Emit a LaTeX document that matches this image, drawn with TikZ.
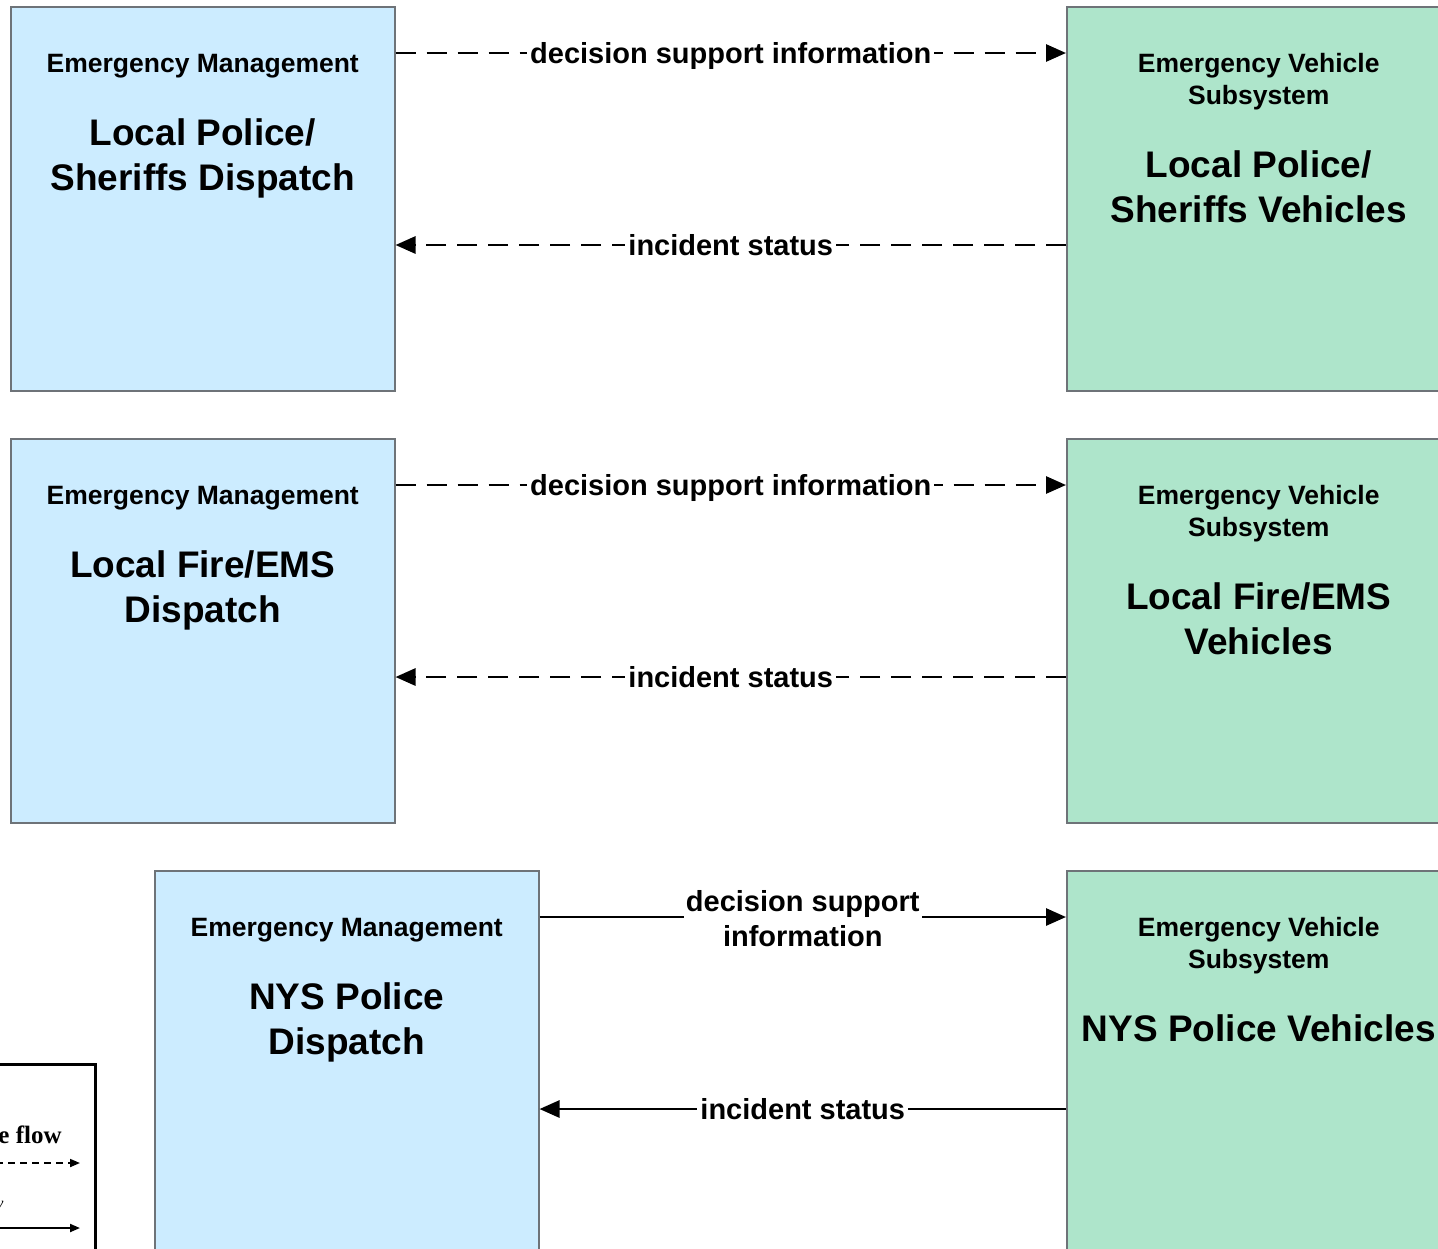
\documentclass[tikz,border=0pt]{standalone}
\usepackage{fontspec}
\setmainfont{Liberation Sans}
\newfontfamily\legserif{Liberation Serif}
\usetikzlibrary{arrows.meta,calc}
\definecolor{emblue}{HTML}{CCECFF}
\definecolor{evgreen}{HTML}{AEE5CB}
\definecolor{boxgray}{HTML}{6E7378}
\tikzset{
  box/.style={draw=boxgray, line width=0.75pt, minimum width=192pt, minimum height=192pt, anchor=north west, inner sep=0pt},
  bluebox/.style={box, fill=emblue},
  greenbox/.style={box, fill=evgreen},
  smalltxt/.style={anchor=base, inner sep=0pt, font=\fontsize{13.25pt}{16pt}\selectfont\bfseries},
  bigtxt/.style={anchor=base, inner sep=0pt, font=\fontsize{18.5pt}{22.5pt}\selectfont\bfseries},
  lbl/.style={fill=white, inner sep=1.5pt, font=\fontsize{14.5pt}{17.5pt}\selectfont\bfseries, text height=10.5pt, text depth=0pt},
  lbltwo/.style={fill=white, inner sep=1pt, align=center, font=\fontsize{14.5pt}{17.5pt}\selectfont\bfseries},
  flow/.style={line width=1.4pt, -{Triangle[length=10pt,width=8.5pt]}},
  dflow/.style={flow, dash pattern=on 10pt off 5.5pt},
  legflow/.style={line width=1pt, -{Triangle[length=5pt,width=4pt]}},
  legdflow/.style={legflow, line width=0.9pt, dash pattern=on 3.5pt off 2.5pt},
}
\begin{document}
\begin{tikzpicture}[x=0.5pt, y=-0.5pt]
\useasboundingbox (0,0) rectangle (1438,1248);
\clip (0,0) rectangle (1438,1248);
\fill[white] (0,0) rectangle (1438,1248);

% ---------- Row 1 ----------
\node[bluebox] (b1) at (10,6) {};
\node[greenbox] (g1) at (1066,6) {};
\node[smalltxt] (b1a) at ($(b1.north)+(0,66.5)$) {Emergency Management};
\node[bigtxt] (b1b) at ($(b1.north)+(0,139)$) {Local Police/};
\node[bigtxt] (b1c) at ($(b1.north)+(0,184)$) {Sheriffs Dispatch};
\node[smalltxt] (g1a) at ($(g1.north)+(0,66.5)$) {Emergency Vehicle};
\node[smalltxt] (g1b) at ($(g1.north)+(0,98.5)$) {Subsystem};
\node[bigtxt] (g1c) at ($(g1.north)+(0,171)$) {Local Police/};
\node[bigtxt] (g1d) at ($(g1.north)+(0,216)$) {Sheriffs Vehicles};
\draw[dflow] ($(b1.north east)+(0,47)$) -- node[lbl] (l1a) {decision support information} ($(g1.north west)+(0,47)$);
\draw[dflow] ($(g1.north west)+(0,239)$) -- node[lbl] (l1b) {incident status} ($(b1.north east)+(0,239)$);

% ---------- Row 2 ----------
\node[bluebox] (b2) at (10,438) {};
\node[greenbox] (g2) at (1066,438) {};
\node[smalltxt] (b2a) at ($(b2.north)+(0,66.5)$) {Emergency Management};
\node[bigtxt] (b2b) at ($(b2.north)+(0,139)$) {Local Fire/EMS};
\node[bigtxt] (b2c) at ($(b2.north)+(0,184)$) {Dispatch};
\node[smalltxt] (g2a) at ($(g2.north)+(0,66.5)$) {Emergency Vehicle};
\node[smalltxt] (g2b) at ($(g2.north)+(0,98.5)$) {Subsystem};
\node[bigtxt] (g2c) at ($(g2.north)+(0,171)$) {Local Fire/EMS};
\node[bigtxt] (g2d) at ($(g2.north)+(0,216)$) {Vehicles};
\draw[dflow] ($(b2.north east)+(0,47)$) -- node[lbl] (l2a) {decision support information} ($(g2.north west)+(0,47)$);
\draw[dflow] ($(g2.north west)+(0,239)$) -- node[lbl] (l2b) {incident status} ($(b2.north east)+(0,239)$);

% ---------- Row 3 ----------
\node[bluebox] (b3) at (154,870) {};
\node[greenbox] (g3) at (1066,870) {};
\node[smalltxt] (b3a) at ($(b3.north)+(0,66.5)$) {Emergency Management};
\node[bigtxt] (b3b) at ($(b3.north)+(0,139)$) {NYS Police};
\node[bigtxt] (b3c) at ($(b3.north)+(0,184)$) {Dispatch};
\node[smalltxt] (g3a) at ($(g3.north)+(0,66.5)$) {Emergency Vehicle};
\node[smalltxt] (g3b) at ($(g3.north)+(0,98.5)$) {Subsystem};
\node[bigtxt] (g3c) at ($(g3.north)+(0,171)$) {NYS Police Vehicles};
\draw[flow] ($(b3.north east)+(0,47)$) -- node[lbltwo, yshift=-1pt] (l3a) {decision support\\information} ($(g3.north west)+(0,47)$);
\draw[flow] ($(g3.north west)+(0,239)$) -- node[lbl] (l3b) {incident status} ($(b3.north east)+(0,239)$);

% ---------- Legend (partly outside) ----------
\node[draw=black, line width=1.5pt, fill=white, minimum width=300pt, minimum height=200pt, anchor=north east, inner sep=0pt] (leg) at (97,1063) {};
\node[anchor=base east, inner sep=0pt, font=\legserif\bfseries\fontsize{12.5pt}{15pt}\selectfont] (legt1) at (62,1143) {e flow};
\node[anchor=base east, inner sep=0pt, font=\legserif\itshape\fontsize{8pt}{10pt}\selectfont] (legt2) at (4,1208) {y};
\coordinate (ld0) at (-40,1163);
\coordinate (ld1) at (80,1163);
\draw[legdflow] (ld0) -- (ld1);
\coordinate (ls0) at (-40,1228);
\coordinate (ls1) at (80,1228);
\draw[legflow] (ls0) -- (ls1);
\end{tikzpicture}
\end{document}
